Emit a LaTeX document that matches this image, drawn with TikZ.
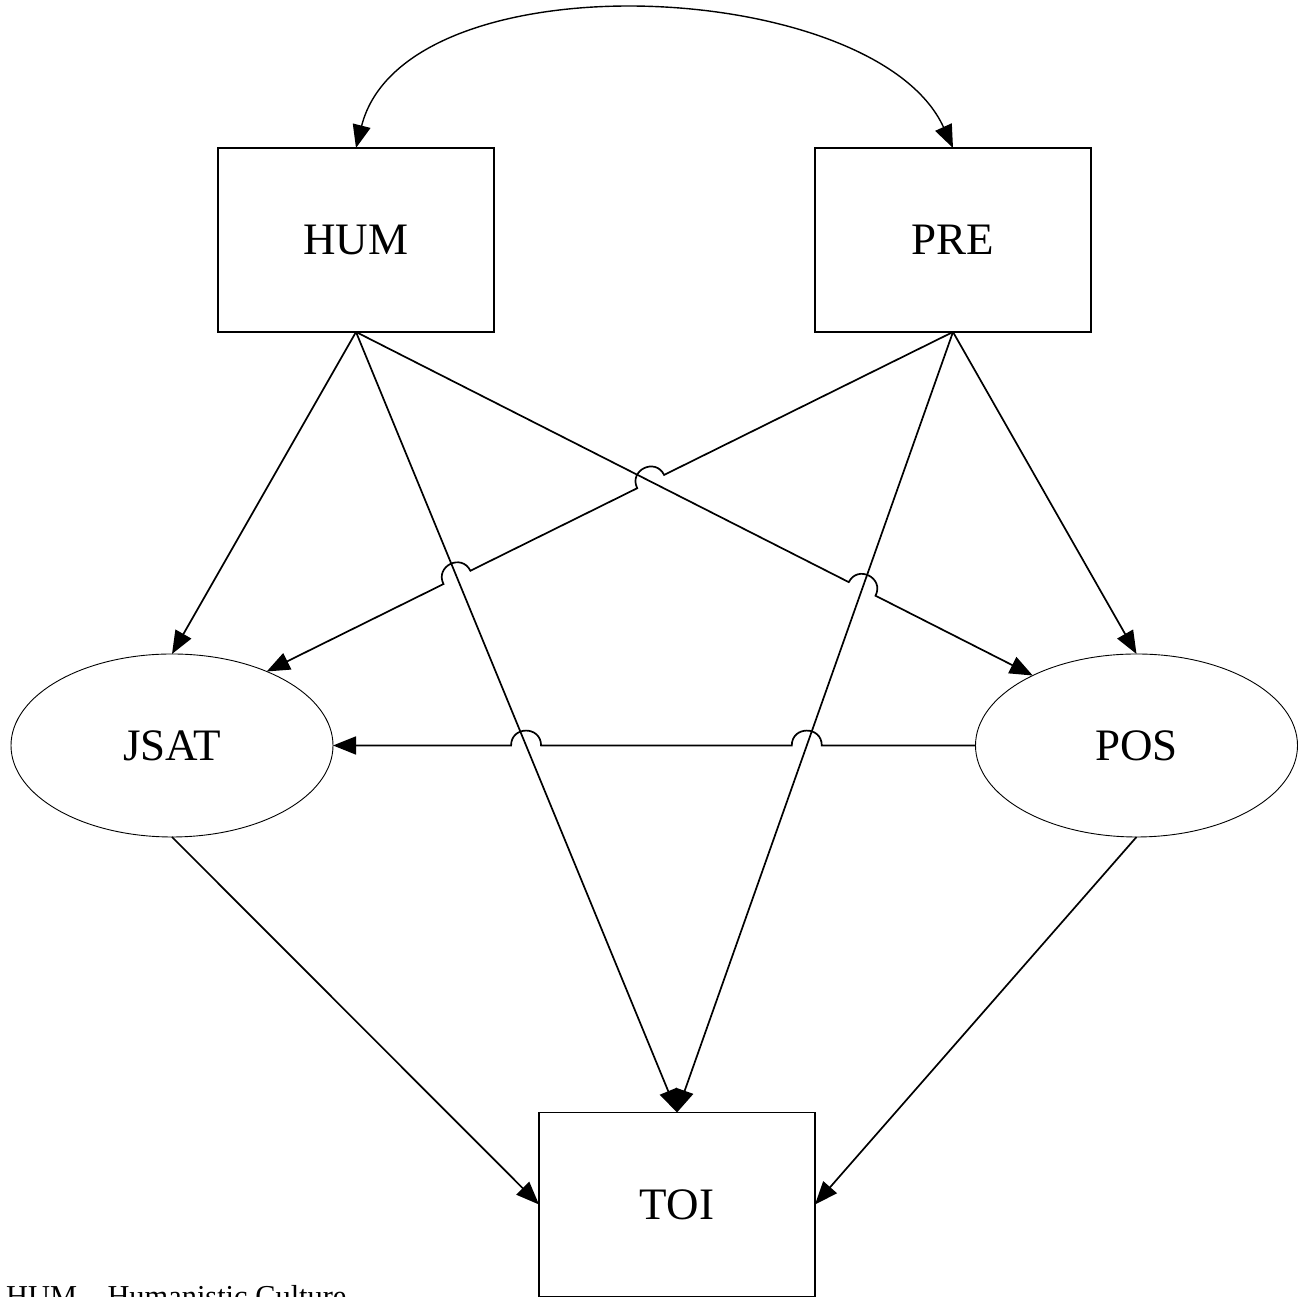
\documentclass[tikz,border=0pt]{standalone}
\usepackage{fontspec}
\setmainfont{Liberation Serif}
\usetikzlibrary{arrows.meta,shapes.geometric,calc,intersections}
\begin{document}
\begin{tikzpicture}[x=1pt,y=1pt,
  lbl/.style={font=\fontsize{45}{54}\selectfont},
  box/.style={lbl, draw, line width=1.1pt, rectangle, minimum width=276pt, minimum height=184pt, inner sep=0pt, outer sep=0pt},
  ell/.style={lbl, draw, line width=0.9pt, ellipse, minimum width=322pt, minimum height=183pt, inner sep=0pt, outer sep=0pt},
  conn/.style={line width=1.7pt, -{Triangle[length=23pt,width=18pt]}},
  dconn/.style={line width=1.4pt, {Triangle[length=23pt,width=18pt]}-{Triangle[length=23pt,width=18pt]}},
  hop/.style={bend #1=90, looseness=1.7}]
\useasboundingbox (0,0) rectangle (1302,1297);
\clip (0,0) rectangle (1302,1297);
\node[box] (HUM) at (356,1057) {HUM};
\node[box] (PRE) at (953,1057) {PRE};
\node[ell] (JSAT) at (172,551.5) {JSAT};
\node[ell] (POS) at (1136.5,551.5) {POS};
\node[box] (TOI) at (677,92.5) {TOI};
\node[anchor=base west, inner sep=0pt, font=\fontsize{30.4}{36}\selectfont] (legend) at (6,-10) {HUM – Humanistic Culture};
% crossing points
\path[name path=l1] (HUM.south) -- (TOI.north);
\path[name path=l2] (PRE.south) -- (TOI.north);
\path[name path=l3] (HUM.south) -- (POS.146);
\path[name path=l4] (PRE.south) -- (JSAT.38);
\path[name path=l5] (POS.west) -- (JSAT.east);
\path[name intersections={of=l1 and l4, by=c14}];
\path[name intersections={of=l3 and l4, by=c34}];
\path[name intersections={of=l2 and l3, by=c23}];
\path[name intersections={of=l1 and l5, by=c15}];
\path[name intersections={of=l2 and l5, by=c25}];
% curved double arrow
\draw[dconn] (HUM.north) .. controls (405,1342) and (875,1320) .. (PRE.north);
% straight connectors
\draw[conn] (HUM.south) -- (JSAT.north);
\draw[conn] (HUM.south) -- (TOI.north);
\draw[conn] (PRE.south) -- (TOI.north);
\draw[conn] (PRE.south) -- (POS.north);
\draw[conn] (JSAT.south) -- (TOI.west);
\draw[conn] (POS.south) -- (TOI.east);
% connectors with hops
\draw[conn] (HUM.south) -- ($(c23)!15pt!(HUM.south)$) to[hop=left] ($(c23)!15pt!(POS.146)$) -- (POS.146);
\draw[conn] (PRE.south) -- ($(c34)!15pt!(PRE.south)$) to[hop=right] ($(c34)!15pt!(JSAT.38)$)
  -- ($(c14)!15pt!(PRE.south)$) to[hop=right] ($(c14)!15pt!(JSAT.38)$) -- (JSAT.38);
\draw[conn] (POS.west) -- ($(c25)!15pt!(POS.west)$) to[hop=right] ($(c25)!15pt!(JSAT.east)$)
  -- ($(c15)!15pt!(POS.west)$) to[hop=right] ($(c15)!15pt!(JSAT.east)$) -- (JSAT.east);
\end{tikzpicture}
\end{document}
